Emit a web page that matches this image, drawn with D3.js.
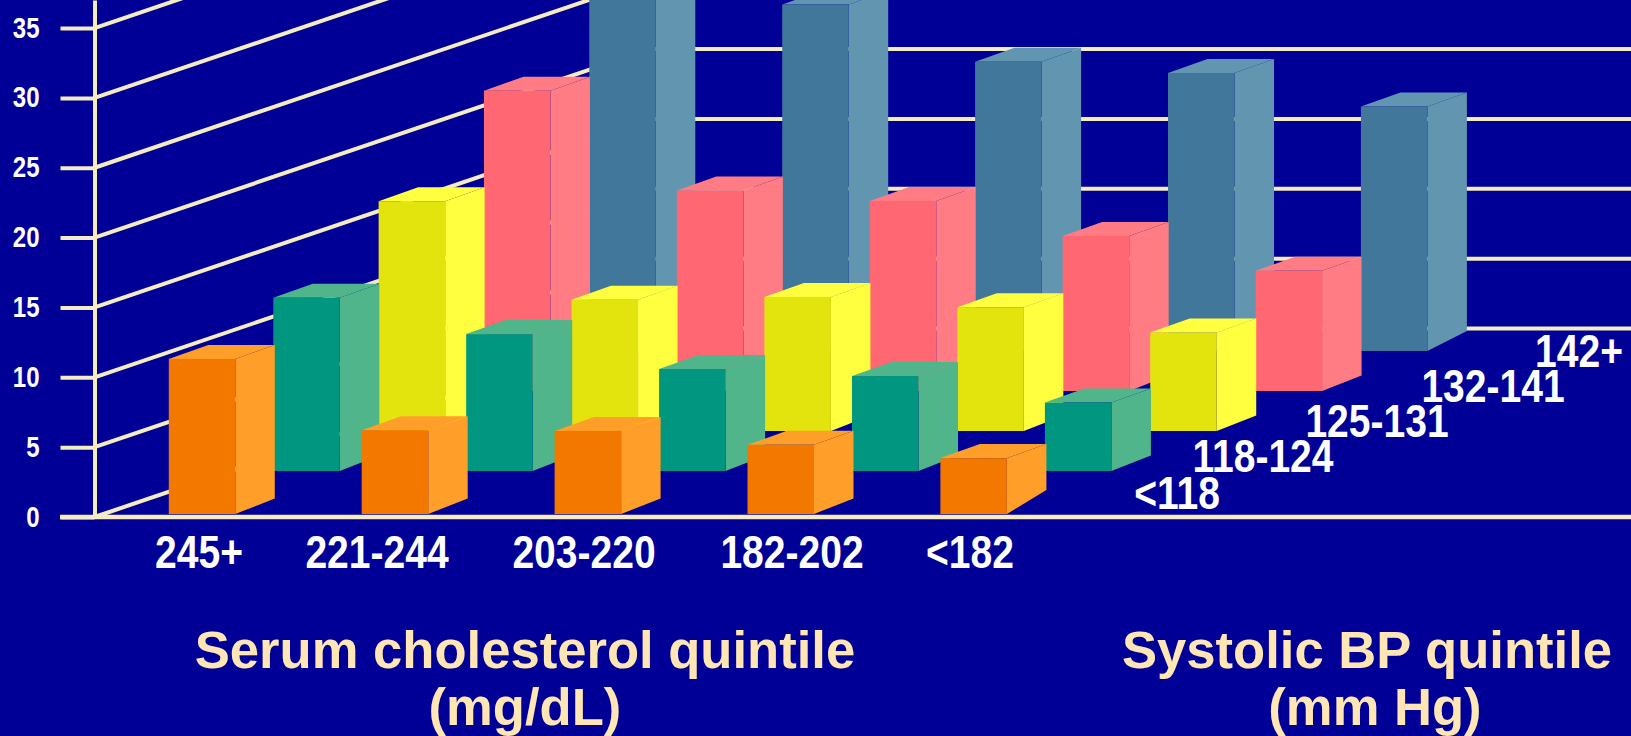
<!doctype html>
<html lang="en">
<head>
<meta charset="UTF-8" />
<title>Serum cholesterol and systolic BP quintiles</title>
<style>
    html, body { margin: 0; padding: 0; background: #000096; overflow: hidden; }
    svg { display: block; }
    .tick-label, .cat-label, .row-label { font-family: 'Liberation Sans', Arial, sans-serif; font-weight: bold; fill: #ffffff; }
    .title-label { font-family: 'Liberation Sans', Arial, sans-serif; font-weight: bold; fill: #ffe6b4; font-size: 52.6px; text-anchor: middle; }
</style>
<script src="https://d3js.org/d3.v7.min.js"></script>
</head>
<body>
<div id="chart-container"></div>
<script>
    // data
    var cholesterol = ['245+', '221-244', '203-220', '182-202', '<182'];
    var bloodPressure = ['<118', '118-124', '125-131', '132-141', '142+'];
    var yTicks = [0, 5, 10, 15, 20, 25, 30, 35];

    var bpUnder118 = [11.1, 6.0, 5.95, 4.95, 4.0];
    var bp118to124 = [12.4, 9.8, 7.3, 6.8, 4.9];
    var bp125to131 = [16.45, 9.4, 9.6, 8.85, 7.05];
    var bp132to141 = [21.5, 14.35, 13.6, 11.1, 8.6];
    var bp142plus = [29.0, 24.8, 20.7, 19.9, 17.5];

    var seriesValues = [bpUnder118, bp118to124, bp125to131, bp132to141, bp142plus];

    var frontColors = ['#f27800', '#00967f', '#e3e30d', '#ff6872', '#41779a'];
    var sideColors = ['#ff9e28', '#50b58a', '#ffff3f', '#ff7c85', '#6295b0'];

    var canvasWidth = 1631;
    var canvasHeight = 736;
    var gridColor = '#f6ecc4';

    var svg1 = d3
        .select('#chart-container')
        .append('svg')
        .attr('width', canvasWidth)
        .attr('height', canvasHeight);

    svg1.append('rect')
        .attr('width', canvasWidth)
        .attr('height', canvasHeight)
        .attr('fill', '#000096');

    var axisX = 94.5;
    var zeroY = 517;
    var unit = 13.97;

    var yScale = d3
        .scaleLinear()
        .domain([0, 37])
        .range([zeroY, zeroY - 37 * unit]);

    // front face position of a bar: category goes left to right,
    // blood pressure row goes into the picture
    var barWidth = 66.5;
    var barStep = 192.9;
    var xScale = d3
        .scaleBand()
        .domain(cholesterol)
        .range([168.8, 168.8 + 4 * barStep + barWidth])
        .paddingInner(1 - barWidth / barStep);

    var rowX = d3
        .scaleLinear()
        .domain([0, 1, 4])
        .range([0, 104.5, 420.5]);
    var rowLift = d3
        .scaleLinear()
        .domain([0, 1, 4])
        .range([3, 46, 166]);

    var depthX = 39.5;
    var depthY = 14;

    // back wall
    var cornerX = 650;
    var wallDrop = 188.5;

    var grid = svg1.append('g')
        .attr('stroke', gridColor)
        .attr('stroke-width', 4)
        .attr('fill', 'none');

    grid.selectAll('.diag')
        .data(yTicks)
        .enter()
        .append('line')
        .attr('class', 'diag')
        .attr('x1', axisX)
        .attr('y1', function (d) { return yScale(d); })
        .attr('x2', cornerX)
        .attr('y2', function (d) { return yScale(d) - wallDrop; });

    grid.selectAll('.wall')
        .data(yTicks)
        .enter()
        .append('line')
        .attr('class', 'wall')
        .attr('x1', cornerX)
        .attr('y1', function (d) { return yScale(d) - wallDrop; })
        .attr('x2', canvasWidth)
        .attr('y2', function (d) { return yScale(d) - wallDrop; });

    // bars, back row first so the front rows cover them
    var rows = d3.range(seriesValues.length).reverse();

    rows.forEach(function (s) {
        var g = svg1.append('g').attr('class', 'row-' + s);

        seriesValues[s].forEach(function (value, c) {
            var x = xScale(cholesterol[c]) + rowX(s);
            var base = zeroY - rowLift(s);
            var top = base - value * unit;
            var right = x + barWidth;

            // the source art has a steeper foot on the last bar of the end rows
            var footY = depthY + 1.5;
            if (c === 4 && s === 0) footY = 24;
            if (c === 4 && s === 4) footY = 20;

            g.append('polygon')
                .attr('fill', sideColors[s])
                .attr('points', [
                    [x, top], [x + depthX, top - depthY],
                    [right + depthX, top - depthY], [right, top]
                ].join(' '));

            g.append('polygon')
                .attr('fill', sideColors[s])
                .attr('points', [
                    [right, top], [right + depthX, top - depthY],
                    [right + depthX, base - footY], [right, base]
                ].join(' '));

            g.append('rect')
                .attr('fill', frontColors[s])
                .attr('x', x)
                .attr('y', top)
                .attr('width', barWidth)
                .attr('height', base - top);
        });
    });

    // y axis
    var yAxis = svg1.append('g')
        .attr('transform', 'translate(' + axisX + ',0)')
        .call(d3.axisLeft(yScale).tickValues(yTicks).tickSize(34).tickSizeOuter(0));

    yAxis.select('.domain').attr('stroke', gridColor).attr('stroke-width', 4);
    yAxis.selectAll('.tick line').attr('stroke', gridColor).attr('stroke-width', 4);
    // the labels in the source are condensed, no narrow font here so squeeze them
    yAxis.selectAll('.tick text')
        .attr('class', 'tick-label')
        .attr('font-size', null)
        .attr('font-family', null)
        .style('font-size', '30px')
        .attr('x', 0)
        .attr('dy', '0.3em')
        .attr('transform', 'translate(-55,0) scale(0.8,1)');

    // floor line
    svg1.append('line')
        .attr('x1', 60)
        .attr('x2', canvasWidth)
        .attr('y1', yScale(0))
        .attr('y2', yScale(0))
        .attr('stroke', gridColor)
        .attr('stroke-width', 4.5);

    // labels under the bars and along the right side
    var catLabelX = [199, 377, 584, 792, 970];
    svg1.selectAll('.cat-label')
        .data(cholesterol)
        .enter()
        .append('text')
        .attr('class', 'cat-label')
        .attr('transform', function (d, i) { return 'translate(' + catLabelX[i] + ',568) scale(0.83,1)'; })
        .attr('text-anchor', 'middle')
        .style('font-size', '47px')
        .text(function (d) { return d; });

    var rowLabelX = [1177, 1263, 1377, 1493, 1579];
    var rowLabelY = [509, 472, 437, 402, 366.5];
    svg1.selectAll('.row-label')
        .data(bloodPressure)
        .enter()
        .append('text')
        .attr('class', 'row-label')
        .attr('transform', function (d, i) { return 'translate(' + rowLabelX[i] + ',' + rowLabelY[i] + ') scale(0.83,1)'; })
        .attr('text-anchor', 'middle')
        .style('font-size', '47px')
        .text(function (d) { return d; });

    // axis titles
    var titles = [
        { x: [525, 525], lines: ['Serum cholesterol quintile', '(mg/dL)'] },
        { x: [1367, 1375], lines: ['Systolic BP quintile', '(mm Hg)'] }
    ];
    titles.forEach(function (t) {
        t.lines.forEach(function (line, i) {
            svg1.append('text')
                .attr('class', 'title-label')
                .attr('x', t.x[i])
                .attr('y', 668 + i * 57)
                .text(line);
        });
    });
</script>
</body>
</html>
